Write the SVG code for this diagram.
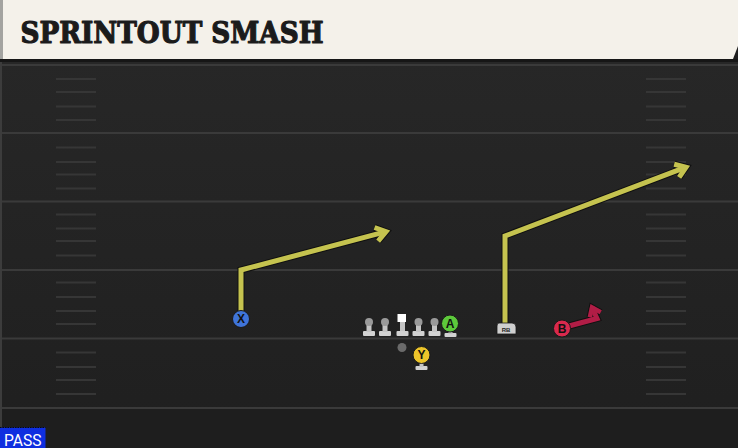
<svg xmlns="http://www.w3.org/2000/svg" xmlns:xlink="http://www.w3.org/1999/xlink" width="738" height="448" viewBox="0 0 738 448">
<style>
.yard{stroke:#3a3a3a;stroke-width:2}
.hash{stroke:#363636;stroke-width:2}
.outline{fill:none;stroke:#101010;stroke-width:7;stroke-linejoin:miter}
.yel{fill:none;stroke:#c5c34f;stroke-width:5;stroke-linejoin:miter}
.red{fill:none;stroke:#b11d46;stroke-width:5;stroke-linejoin:miter}
.lbl{font-family:"Liberation Sans",Arial,sans-serif;font-weight:bold;font-size:12px;text-anchor:middle;fill:#111}
</style>
<defs>
<linearGradient id="fieldg" x1="0" y1="0" x2="0" y2="1">
<stop offset="0" stop-color="#272727"/>
<stop offset="1" stop-color="#1f1f1f"/>
</linearGradient>
<marker id="aO" markerUnits="userSpaceOnUse" viewBox="-14 -10 18 20" refX="0" refY="0" markerWidth="18" markerHeight="20" orient="auto" overflow="visible">
<path d="M-10,-7 L0,0 L-10,7" fill="none" stroke="#101010" stroke-width="7"/>
</marker>
<marker id="aY" markerUnits="userSpaceOnUse" viewBox="-14 -10 18 20" refX="0" refY="0" markerWidth="18" markerHeight="20" orient="auto" overflow="visible">
<path d="M-10,-7 L0,0 L-10,7" fill="none" stroke="#c5c34f" stroke-width="5"/>
</marker>
<marker id="aR" markerUnits="userSpaceOnUse" viewBox="-14 -10 18 20" refX="0" refY="0" markerWidth="18" markerHeight="20" orient="auto" overflow="visible">
<path d="M-8,-6 L0,0 L-8,6" fill="none" stroke="#b11d46" stroke-width="4.5"/>
</marker>
<marker id="aRO" markerUnits="userSpaceOnUse" viewBox="-14 -10 18 20" refX="0" refY="0" markerWidth="18" markerHeight="20" orient="auto" overflow="visible">
<path d="M-8,-6 L0,0 L-8,6" fill="none" stroke="#101010" stroke-width="6.5"/>
</marker>
<g id="lineman">
<rect x="-6" y="9" width="12" height="5" rx="1" fill="#d2d2d2"/>
<rect x="-2.5" y="0" width="5" height="10" fill="#c4c4c4"/>
<circle cx="0" cy="0" r="4" fill="#9a9a9a"/>
</g>
<g id="stand">
<rect x="-6" y="0" width="12" height="4" rx="1" fill="#d2d2d2"/>
<rect x="-2" y="-4" width="4" height="5" fill="#c4c4c4"/>
</g>
</defs>

<!-- field -->
<rect x="0" y="0" width="738" height="448" fill="#1e1e1e"/>
<rect x="0" y="59" width="738" height="389" fill="url(#fieldg)"/>
<rect x="0" y="408" width="738" height="40" fill="#1e1e1e"/>
<rect x="0" y="59" width="2" height="389" fill="#3c3c3c"/>
<g id="yardlines">
<line class="yard" x1="2" y1="65" x2="738" y2="65"/>
<line class="yard" x1="2" y1="133" x2="738" y2="133"/>
<line class="yard" x1="2" y1="201.5" x2="738" y2="201.5"/>
<line class="yard" x1="2" y1="270" x2="738" y2="270"/>
<line class="yard" x1="2" y1="338.5" x2="738" y2="338.5"/>
<line class="yard" x1="2" y1="408" x2="738" y2="408"/>
</g>
<g id="hashes">
<path class="hash" d="M56,79H96M56,92H96M56,106.5H96M56,120H96M56,147.5H96M56,162H96M56,174.5H96M56,188.5H96M56,214.5H96M56,228.5H96M56,241H96M56,255.5H96M56,282.5H96M56,297H96M56,311H96M56,324H96M56,352.5H96M56,367H96M56,380H96M56,394H96"/>
<path class="hash" d="M646,79H686M646,92H686M646,106.5H686M646,120H686M646,147.5H686M646,162H686M646,174.5H686M646,188.5H686M646,214.5H686M646,228.5H686M646,241H686M646,255.5H686M646,282.5H686M646,297H686M646,311H686M646,324H686M646,352.5H686M646,367H686M646,380H686M646,394H686"/>
</g>

<!-- header -->
<g id="header">
<rect x="0" y="59" width="738" height="3" fill="#161616"/>
<polygon points="0,0 738,0 738,46 733,59 0,59" fill="#f4f1ea"/>
<rect x="0" y="0" width="3" height="59" fill="#a3a3a0"/>
<text x="20.5" y="42.5" font-family="DejaVu Serif,serif" font-weight="bold" font-size="29" textLength="303" lengthAdjust="spacingAndGlyphs" fill="#1b1b1b" stroke="#1b1b1b" stroke-width="1.2" stroke-linejoin="round">SPRINTOUT SMASH</text>
</g>

<!-- connectors -->
<g id="routes">
<path class="outline" d="M241,312 V270 L386,231.7" marker-end="url(#aO)"/>
<path class="yel" d="M241,312 V270 L386,231.7" marker-end="url(#aY)"/>
<path class="outline" d="M505,324 V236 L686,167.2" marker-end="url(#aO)"/>
<path class="yel" d="M505,324 V236 L686,167.2" marker-end="url(#aY)"/>
<path class="outline" d="M569,326 L597,318.5 L592,307.5" marker-end="url(#aRO)"/>
<path class="red" d="M569,326 L597,318.5 L592,307.5" marker-end="url(#aR)"/>
</g>

<!-- players -->
<g id="X">
<circle cx="241" cy="319" r="8.5" fill="#3f74d9" stroke="#1a1a1a" stroke-width="1"/>
<text class="lbl" x="241" y="323.3">X</text>
</g>
<g id="LT"><use xlink:href="#lineman" x="369" y="322"/></g>
<g id="LG"><use xlink:href="#lineman" x="385" y="322"/></g>
<g id="C">
<rect x="396.5" y="331" width="12" height="5" rx="1" fill="#d2d2d2"/>
<rect x="400" y="321" width="5" height="10" fill="#c4c4c4"/>
<rect x="397.5" y="314" width="8.5" height="8" fill="#ffffff"/>
</g>
<g id="RG"><use xlink:href="#lineman" x="418.5" y="322"/></g>
<g id="RT"><use xlink:href="#lineman" x="434.5" y="322"/></g>
<g id="A">
<use xlink:href="#stand" x="450.5" y="333"/>
<circle cx="450" cy="323.5" r="8.5" fill="#5dc93b" stroke="#1a1a1a" stroke-width="1"/>
<text class="lbl" x="450" y="327.8">A</text>
</g>
<g id="QB">
<circle cx="402" cy="347.5" r="4.5" fill="#6a6a6a"/>
</g>
<g id="Y">
<use xlink:href="#stand" x="421.5" y="366"/>
<circle cx="421.5" cy="355" r="8.5" fill="#ecc42a" stroke="#1a1a1a" stroke-width="1"/>
<text class="lbl" x="421.5" y="359.3">Y</text>
</g>
<g id="RB">
<path d="M499,323 H512 Q516,323 516,327 V334 H497 V326 Q497,323 499,323 Z" fill="#cfcfcf" stroke="#1a1a1a" stroke-width="0.8"/>
<text x="506" y="331.5" font-family="Liberation Sans,Arial,sans-serif" font-weight="bold" font-size="6" text-anchor="middle" fill="#222">RB</text>
</g>
<g id="B">
<circle cx="562" cy="328.5" r="8.5" fill="#d9294d" stroke="#1a1a1a" stroke-width="1"/>
<text class="lbl" x="562" y="332.8" fill="#2a0a10">B</text>
</g>

<!-- pass tag -->
<g id="pass">
<rect x="0" y="427.5" width="45.5" height="20.5" fill="#0f2fe0"/>
<line x1="0" y1="427.5" x2="45.5" y2="427.5" stroke="#0a0a0a" stroke-width="1" stroke-dasharray="1.5,1"/>
<text x="4" y="445.5" font-family="Roboto,Liberation Sans,sans-serif" font-size="16" textLength="37.5" lengthAdjust="spacingAndGlyphs" fill="#ffffff">PASS</text>
</g>
</svg>
